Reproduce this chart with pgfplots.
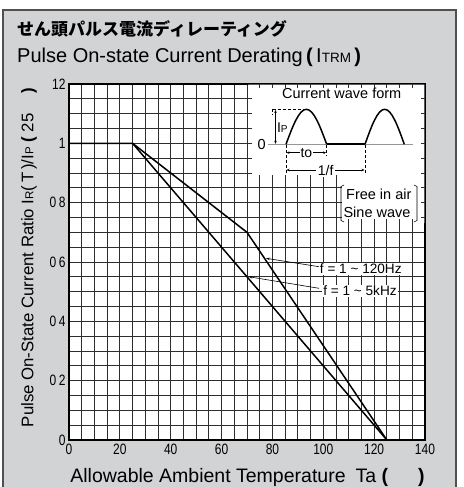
\documentclass[border=0pt]{standalone}
\usepackage{pgfplots}
\pgfplotsset{compat=1.18}
\usetikzlibrary{arrows.meta}
\usepackage{fontspec}
\setmainfont{Liberation Sans}
\newfontfamily\cond[FakeStretch=0.8]{Liberation Sans}
\newfontfamily\jp{Noto Sans CJK JP}
\definecolor{panel}{RGB}{210,211,213}
\definecolor{framec}{RGB}{80,80,80}
\definecolor{gridc}{RGB}{45,45,45}
\definecolor{basec}{RGB}{150,150,150}
\begin{document}
\begin{tikzpicture}
\useasboundingbox (0,0) rectangle (463pt,487pt);
\fill[white] (0,0) rectangle (463pt,487pt);
\begin{scope}[x=1pt,y=-1pt,shift={(0pt,487pt)}]
\filldraw[fill=panel,draw=framec,line width=1.2pt] (3,10) rectangle (456,500);
\node[anchor=west,inner sep=0,font=\jp\bfseries\fontsize{17}{17}\selectfont] at (17,28.5) {せん頭パルス電流ディレーティング};
\node[anchor=base west,inner sep=0,font=\fontsize{20}{20}\selectfont] at (17,63) {Pulse On-state Current Derating\,\textbf{(}\,I{\fontsize{13.5}{14}\selectfont TRM}\,\textbf{)}};
\end{scope}
\begin{axis}[at={(69pt,47pt)},anchor=south west,scale only axis,width=356pt,height=356pt,
  xmin=0,xmax=140,ymin=0,ymax=1.2,
  xtick={0,20,40,60,80,100,120,140},
  xticklabels={0,20,40,60,80,100,120,140},
  ytick={0,0.2,0.4,0.6,0.8,1,1.2},
  yticklabels={0,0\,2,0\,4,0\,6,0\,8,1,12},
  minor x tick num=3, minor y tick num=3,
  grid=both,
  grid style={draw=gridc,line width=0.8pt},
  minor grid style={draw=gridc,line width=0.8pt},
  major grid style={draw=gridc,line width=0.8pt},
  major tick length=0pt, minor tick length=0pt,
  axis line style={line width=1.2pt},
  axis background/.style={fill=white},
  ticklabel style={font=\cond\fontsize{15}{15}\selectfont},
  /pgf/number format/assume math mode=true,
  clip=false]
\addplot[black,line width=1.5pt] coordinates {(0,1) (25,1) (70,0.7) (125,0)};
\addplot[black,line width=1.5pt] coordinates {(25,1) (125,0)};
\end{axis}
\begin{scope}[x=1pt,y=-1pt,shift={(0pt,487pt)}]
% white inset areas
\fill[white] (248.3,84.7) -- (424.4,84.7) -- (424.4,223) -- (338,223) -- (338,178) -- (248.3,178) -- cycle;
% stubs
\foreach \k in {15,...,27} {\pgfmathsetmacro\xx{69+356/28*\k}\draw[gridc,line width=0.8pt] (\xx,84) -- (\xx,88.5);}
\foreach \k in {22,...,27} {\pgfmathsetmacro\xx{69+356/28*\k}\draw[gridc,line width=0.8pt] (\xx,223) -- (\xx,219);}
\foreach \k in {15,...,21} {\pgfmathsetmacro\xx{69+356/28*\k}\draw[gridc,line width=0.8pt] (\xx,178.5) -- (\xx,175);}
\foreach \j in {18,...,23} {\pgfmathsetmacro\yy{440-356/24*\j}\draw[gridc,line width=0.8pt] (248,\yy) -- (252,\yy);}
\foreach \j in {15,...,23} {\pgfmathsetmacro\yy{440-356/24*\j}\draw[gridc,line width=0.8pt] (425,\yy) -- (421,\yy);}
\foreach \j in {15,...,17} {\pgfmathsetmacro\yy{440-356/24*\j}\draw[gridc,line width=0.8pt] (338,\yy) -- (342,\yy);}
% wave form inset
\node[font=\fontsize{14.5}{15}\selectfont,inner sep=0] at (341.7,93) {Current wave form};
\draw[basec,line width=1.5pt] (268,144.3) -- (413,144.3);
\draw[black,line width=2pt] (326.7,144.3) -- (365,144.3);
\draw[black,line width=1.5pt] (286,144.3) sin (306.35,109.3) cos (326.7,144.3);
\draw[black,line width=1.5pt] (365,144.3) sin (384.65,109.3) cos (404.3,144.3);
\draw[black,line width=0.7pt,dash pattern=on 3pt off 2pt] (272.7,109.3) -- (303,109.3);
\draw[black,line width=0.7pt,dash pattern=on 3pt off 2pt] (272.7,109.3) -- (272.7,115);
\draw[black,line width=0.7pt,{Stealth[length=3pt,width=2.5pt]}-{Stealth[length=3pt,width=2.5pt]}] (275.5,110) -- (275.5,143.8);
\node[font=\fontsize{14}{14}\selectfont,inner sep=0,anchor=west] at (277,128) {I\kern-0.3pt{\fontsize{10}{10}\selectfont P}};
\node[font=\fontsize{14.5}{15}\selectfont,inner sep=0] at (261.7,144.3) {0};
\draw[black,line width=0.7pt,dash pattern=on 3pt off 2pt] (286,145) -- (286,173);
\draw[black,line width=0.7pt,dash pattern=on 3pt off 2pt] (326.7,145) -- (326.7,156);
\draw[black,line width=0.7pt,dash pattern=on 3pt off 2pt] (365,145) -- (365,173);
\draw[black,line width=0.7pt,{Stealth[length=3pt,width=2.5pt]}-{Stealth[length=3pt,width=2.5pt]}] (286.5,152.7) -- (326.2,152.7);
\node[font=\fontsize{14}{14}\selectfont,fill=white,inner sep=1pt] at (306.35,152.7) {to};
\draw[black,line width=0.7pt,{Stealth[length=3pt,width=2.5pt]}-{Stealth[length=3pt,width=2.5pt]}] (286.5,170) -- (364.5,170);
\node[font=\fontsize{14}{14}\selectfont,fill=white,inner sep=1.5pt] at (325.7,170) {1/f};
% free in air
\node[font=\fontsize{14.5}{15}\selectfont,inner sep=0] at (378.8,194) {Free in air};
\node[font=\fontsize{14.5}{15}\selectfont,inner sep=0] at (377,212.5) {Sine wave};
\draw[black,line width=0.6pt] (344,185) -- (341,186.5) -- (341,220.5) -- (344,222);
\draw[black,line width=0.6pt] (414,185) -- (417,186.5) -- (417,220.5) -- (414,222);
% curve labels
\draw[black,line width=0.6pt,-{Stealth[length=4pt,width=2.5pt]}] (319,266.7) -- (266,258.3);
\draw[black,line width=0.6pt,-{Stealth[length=4pt,width=2.5pt]}] (319,288.3) -- (248.5,276.7);
\node[font=\fontsize{13.6}{14}\selectfont,fill=white,inner sep=1pt] at (360.8,269) {f = 1 \textasciitilde{} 120Hz};
\node[font=\fontsize{13.6}{14}\selectfont,fill=white,inner sep=1pt] at (360,291) {f = 1 \textasciitilde{} 5kHz};
% axis labels
\node[rotate=90,inner sep=0,font=\fontsize{16.8}{17}\selectfont] at (29,257.5) {Pulse On-State Current Ratio I{\fontsize{11.5}{12}\selectfont R}(\,T\,)/I{\fontsize{11.5}{12}\selectfont P} \textbf{(} 25\hspace{20pt}\textbf{)}};
\node[anchor=base,inner sep=0,font=\fontsize{19.5}{20}\selectfont] at (247.5,482) {Allowable Ambient Temperature\hspace{10pt}Ta \textbf{(}\hspace{30pt}\textbf{)}};
\end{scope}
\end{tikzpicture}
\end{document}
